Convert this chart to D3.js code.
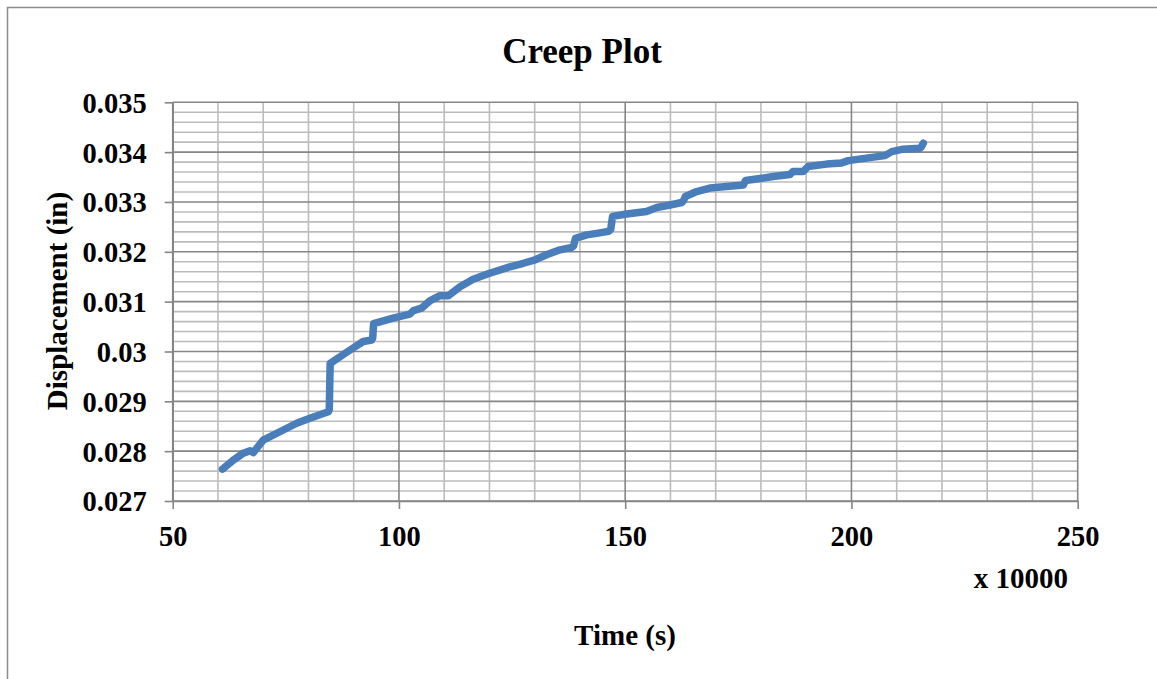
<!DOCTYPE html>
<html>
<head>
<meta charset="utf-8">
<script src="https://cdn.jsdelivr.net/npm/d3@7"></script>
<style>
  body { margin: 0; background: #fff; }
  text { font-family: "Liberation Serif", "Times New Roman", serif; font-weight: bold; fill: #000; }
</style>
</head>
<body>
<svg id="chart" width="1157" height="679"></svg>
<script>
// Time in units of 10000 s
const timeValues = [61.0, 63.4, 65.6, 67.1, 67.8, 70.0, 73.0, 77.4, 80.3, 84.4, 84.6,
  84.8, 89.2, 92.1, 94.0, 94.2, 94.4, 98.7, 102.4, 103.2, 105.0, 106.9, 109.1, 110.9,
  113.5, 116.4, 119.7, 124.5, 127.5, 130.1, 132.6, 135.6, 138.2, 138.6, 139.0, 141.5,
  143.7, 146.3, 146.8, 147.2, 150.3, 154.7, 157.0, 159.9, 162.5, 162.9, 163.3, 165.8,
  168.7, 172.4, 176.1, 176.6, 179.8, 182.7, 186.4, 187.1, 189.3, 190.4, 194.5, 197.8,
  199.3, 204.1, 207.4, 208.9, 211.4, 215.1, 215.4, 215.9];
// Displacement (in)
const dispValues = [0.02764, 0.02782, 0.02796, 0.02801, 0.02797, 0.02822, 0.02836, 0.02856,
  0.02866, 0.02879, 0.02883, 0.02976, 0.03003, 0.03020, 0.03023, 0.03027, 0.03056, 0.03067,
  0.03075, 0.03082, 0.03087, 0.03102, 0.03112, 0.03112, 0.03130, 0.03145, 0.03156, 0.03170,
  0.03177, 0.03184, 0.03194, 0.03204, 0.03209, 0.03212, 0.03227, 0.03234, 0.03237, 0.03241,
  0.03245, 0.03271, 0.03276, 0.03281, 0.03289, 0.03294, 0.03299, 0.03303, 0.03311, 0.03321,
  0.03328, 0.03331, 0.03334, 0.03343, 0.03347, 0.03351, 0.03355, 0.03361, 0.03361, 0.03371,
  0.03376, 0.03378, 0.03383, 0.03389, 0.03393, 0.03401, 0.03406, 0.03408, 0.03410, 0.03418];

const xTicks = [50, 100, 150, 200, 250];
const yTicks = [0.027, 0.028, 0.029, 0.030, 0.031, 0.032, 0.033, 0.034, 0.035];
const yTickLabels = ["0.027", "0.028", "0.029", "0.03", "0.031", "0.032", "0.033", "0.034", "0.035"];

const chartTitle = "Creep Plot";
const xTitle = "Time (s)";
const yTitle = "Displacement (in)";
const xUnitLabel = "x 10000";

const svg = d3.select("#chart");
const L = 172.7, R = 1077.7, T = 102.3, B = 501;

// outer border
svg.append("rect").attr("x", 7.5).attr("y", 7.5).attr("width", 1200).attr("height", 720)
  .attr("fill", "none").attr("stroke", "#8c8c8c").attr("stroke-width", 1.5);

const x = d3.scaleLinear().domain([50, 250]).range([L, R]);
const y = d3.scaleLinear().domain([0.027, 0.035]).range([B, T]);

const grid = svg.append("g");
// minor grid
const xMinor = d3.range(60, 250, 10).filter(v => v % 50 !== 0);
const yMinor = d3.range(0, 41).map(i => 0.027 + i * 0.0002).filter((v, i) => i % 5 !== 0);
grid.selectAll(".xm").data(xMinor).enter().append("line")
  .attr("x1", d => x(d)).attr("x2", d => x(d)).attr("y1", T).attr("y2", B)
  .attr("stroke", "#bcbcbc").attr("stroke-width", 1.6);
grid.selectAll(".ym").data(yMinor).enter().append("line")
  .attr("x1", L).attr("x2", R).attr("y1", d => y(d)).attr("y2", d => y(d))
  .attr("stroke", "#bcbcbc").attr("stroke-width", 1.6);
// major grid
grid.selectAll(".xM").data(xTicks).enter().append("line")
  .attr("x1", d => x(d)).attr("x2", d => x(d)).attr("y1", T).attr("y2", B)
  .attr("stroke", "#868686").attr("stroke-width", 1.6);
grid.selectAll(".yM").data(yTicks).enter().append("line")
  .attr("x1", L).attr("x2", R).attr("y1", d => y(d)).attr("y2", d => y(d))
  .attr("stroke", "#868686").attr("stroke-width", 1.6);

// axes
const xAxis = svg.append("g").attr("transform", `translate(0,${B})`)
  .call(d3.axisBottom(x).tickValues(xTicks).tickSize(8).tickSizeOuter(0).tickFormat(d3.format("d")));
const yAxis = svg.append("g").attr("transform", `translate(${L},0)`)
  .call(d3.axisLeft(y).tickValues(yTicks).tickSize(8).tickSizeOuter(0).tickFormat((d, i) => yTickLabels[i]));
[xAxis, yAxis].forEach(a => {
  a.select(".domain").attr("stroke", "#868686").attr("stroke-width", 1.6);
  a.selectAll(".tick line").attr("stroke", "#868686").attr("stroke-width", 1.6);
  a.selectAll("text").attr("font-family", "Liberation Serif").attr("font-weight", "bold")
    .attr("font-size", 28.5).attr("fill", "#000");
});
xAxis.selectAll("text").attr("dy", null).attr("y", 45);
yAxis.selectAll("text").attr("x", -26).attr("dy", "0.35em");

// line
const data = timeValues.map((t, i) => ({t, d: dispValues[i]}));
svg.append("path").datum(data)
  .attr("d", d3.line().x(d => x(d.t)).y(d => y(d.d)))
  .attr("fill", "none").attr("stroke", "#4a7ebb").attr("stroke-width", 7.5)
  .attr("stroke-linejoin", "round").attr("stroke-linecap", "round");

// titles
svg.append("text").attr("x", 582).attr("y", 63).attr("text-anchor", "middle")
  .attr("font-size", 35).text(chartTitle);
svg.append("text").attr("x", 625).attr("y", 645).attr("text-anchor", "middle")
  .attr("font-size", 29).text(xTitle);
svg.append("text").attr("x", 1068).attr("y", 588).attr("text-anchor", "end")
  .attr("font-size", 29).text(xUnitLabel);
svg.append("text").attr("transform", "translate(67,301) rotate(-90)").attr("text-anchor", "middle")
  .attr("font-size", 29).text(yTitle);
</script>
</body>
</html>
